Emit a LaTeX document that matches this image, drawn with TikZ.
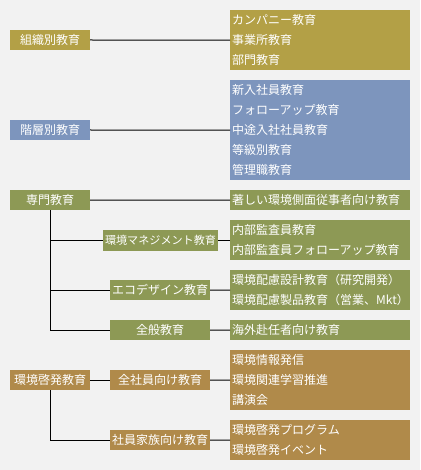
\documentclass[tikz,border=0pt]{standalone}
\usepackage{fontspec}
\setmainfont{Noto Sans CJK JP}
\definecolor{bgc}{RGB}{242,242,242}
\definecolor{goldc}{RGB}{179,160,70}
\definecolor{bluec}{RGB}{125,149,189}
\definecolor{greenc}{RGB}{141,153,85}
\definecolor{brownc}{RGB}{176,138,74}
\begin{document}
\begin{tikzpicture}[x=1pt,y=-1pt,
  every node/.style={text=white,font=\fontsize{12}{20}\selectfont,inner sep=0pt},
  lbox/.style={minimum width=80pt,minimum height=20pt,align=center},
  mbox/.style={minimum width=100pt,minimum height=20pt,align=center},
  rbox/.style={anchor=north west,text width=176pt,inner xsep=2pt,align=left},
  conn/.style={draw=black,line width=1pt}]
\useasboundingbox[fill=bgc] (0,0) rectangle (420,470);
% left column
\node[lbox,fill=goldc] (soshiki) at (50,40) {組織別教育};
\node[lbox,fill=bluec] (kaiso) at (50,130) {階層別教育};
\node[lbox,fill=greenc] (senmon) at (50,200) {専門教育};
\node[lbox,fill=brownc] (keihatsu) at (50,380) {環境啓発教育};
% middle column
\node[minimum width=115pt,minimum height=21pt,fill=greenc,font=\fontsize{11.1}{20}\selectfont] (ems) at (160.5,240.5) {環境マネジメント教育};
\node[mbox,fill=greenc] (eco) at (160,290) {エコデザイン教育};
\node[mbox,fill=greenc] (zenpan) at (160,330) {全般教育};
\node[mbox,fill=brownc] (zensha) at (160,380) {全社員向け教育};
\node[mbox,fill=brownc] (kazoku) at (160,440) {社員家族向け教育};
% right column
\node[rbox,fill=goldc,minimum height=60pt] (r1) at (230,10) {カンパニー教育\\事業所教育\\部門教育};
\node[rbox,fill=bluec,minimum height=100pt] (r2) at (230,80) {新入社員教育\\フォローアップ教育\\中途入社社員教育\\等級別教育\\管理職教育};
\node[rbox,fill=greenc,minimum height=20pt] (r3) at (230,190) {著しい環境側面従事者向け教育};
\node[rbox,fill=greenc,minimum height=40pt] (r4) at (230,220) {内部監査員教育\\内部監査員フォローアップ教育};
\node[rbox,fill=greenc,minimum height=40pt] (r5) at (230,270) {環境配慮設計教育（研究開発）\\環境配慮製品教育（営業、Mkt）};
\node[rbox,fill=greenc,minimum height=20pt] (r6) at (230,320) {海外赴任者向け教育};
\node[rbox,fill=brownc,minimum height=60pt] (r7) at (230,350) {環境情報発信\\環境関連学習推進\\講演会};
\node[rbox,fill=brownc,minimum height=40pt] (r8) at (230,420) {環境啓発プログラム\\環境啓発イベント};
% connectors
\draw[conn] (soshiki.east) -- (r1.west);
\draw[conn] (kaiso.east) -- (r2.west);
\draw[conn] (senmon.east) -- (r3.west);
\draw[conn] (senmon.south) |- (ems.west);
\draw[conn] (senmon.south) |- (eco.west);
\draw[conn] (senmon.south) |- (zenpan.west);
\draw[conn] (ems.east) -- (ems.east -| r4.west);
\draw[conn] (eco.east) -- (r5.west);
\draw[conn] (zenpan.east) -- (r6.west);
\draw[conn] (keihatsu.east) -- (zensha.west);
\draw[conn] (zensha.east) -- (r7.west);
\draw[conn] (keihatsu.south) |- (kazoku.west);
\draw[conn] (kazoku.east) -- (r8.west);
\end{tikzpicture}
\end{document}
